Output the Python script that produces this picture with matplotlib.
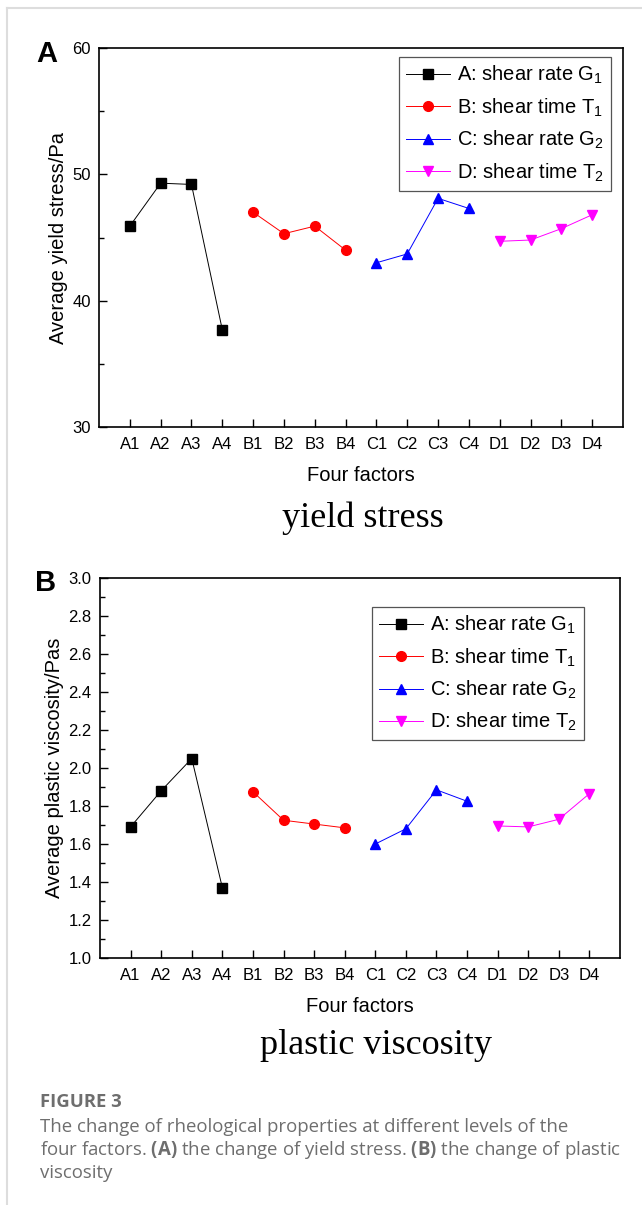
import numpy as np
import matplotlib.pyplot as plt
from matplotlib.lines import Line2D

plt.rcParams['font.family'] = ['Liberation Sans', 'DejaVu Sans']
plt.rcParams['mathtext.fontset'] = 'custom'
plt.rcParams['mathtext.rm'] = 'Liberation Sans'
plt.rcParams['mathtext.it'] = 'Liberation Sans'
plt.rcParams['mathtext.bf'] = 'Open Sans:bold'

# Data
levels = ['A1', 'A2', 'A3', 'A4', 'B1', 'B2', 'B3', 'B4',
          'C1', 'C2', 'C3', 'C4', 'D1', 'D2', 'D3', 'D4']
series_names = ['A: shear rate G$_1$', 'B: shear time T$_1$',
                'C: shear rate G$_2$', 'D: shear time T$_2$']

yield_A = [45.9, 49.3, 49.2, 37.7]
yield_B = [47.0, 45.3, 45.9, 44.0]
yield_C = [43.0, 43.7, 48.1, 47.3]
yield_D = [44.7, 44.8, 45.7, 46.8]

visc_A = [1.69, 1.88, 2.05, 1.37]
visc_B = [1.875, 1.725, 1.705, 1.685]
visc_C = [1.60, 1.68, 1.885, 1.825]
visc_D = [1.695, 1.69, 1.73, 1.865]

colors = ['black', 'red', 'blue', 'magenta']
markers = ['s', 'o', '^', 'v']

fig = plt.figure(figsize=(6.42, 12.05), dpi=100)
W, H = 642, 1205


def box(l, t, r, b):
    return [l / W, 1 - b / H, (r - l) / W, (b - t) / H]


def draw_panel(ax, groups, ylim, major, minor, ylabel, leg_loc):
    x = np.arange(1, len(levels) + 1)
    for i, vals in enumerate(groups):
        xs = x[i * 4:(i + 1) * 4]
        ax.plot(xs, vals, color=colors[i], marker=markers[i], lw=0.7,
                ms=7, label=series_names[i])
    ax.set_xlim(0, 17)
    ax.set_ylim(*ylim)
    ax.set_xticks(x)
    ax.set_xticklabels(levels)
    ax.set_yticks(major)
    ax.set_yticks(minor, minor=True)
    ax.tick_params(direction='in', length=6, width=1.0, labelsize=12)
    ax.tick_params(axis='y', pad=6)
    ax.tick_params(axis='x', pad=7)
    ax.tick_params(which='minor', direction='in', length=3.5, width=1.0)
    for s in ax.spines.values():
        s.set_linewidth(1.2)
    ax.set_xlabel('Four factors', fontsize=14.5, labelpad=10)
    ax.set_ylabel(ylabel, fontsize=14.5, labelpad=3)
    leg = ax.legend(loc='upper right', bbox_to_anchor=leg_loc, fontsize=14.5,
                    fancybox=False, edgecolor='#555555', framealpha=1,
                    handlelength=2.2, handletextpad=0.35, borderpad=0.35,
                    labelspacing=0.5, borderaxespad=0)
    leg.get_frame().set_linewidth(0.9)


ax1 = fig.add_axes(box(99, 48, 623, 427))
draw_panel(ax1, [yield_A, yield_B, yield_C, yield_D], (30, 60),
           [30, 40, 50, 60], [35, 45, 55], 'Average yield stress/Pa',
           (0.977, 0.976))
ax1.text(36 / W, 1 - 40 / H, 'A', transform=fig.transFigure, fontsize=21,
         fontweight='bold', va='top', ha='left')

ax2 = fig.add_axes(box(100, 578, 620, 958))
draw_panel(ax2, [visc_A, visc_B, visc_C, visc_D], (1.0, 3.0),
           np.arange(1.0, 3.01, 0.2), np.arange(1.1, 3.0, 0.2),
           'Average plastic viscosity/Pas', (0.931, 0.924))
ax2.yaxis.set_major_formatter(plt.FormatStrFormatter('%.1f'))
ax2.text(35 / W, 1 - 569 / H, 'B', transform=fig.transFigure, fontsize=21,
         fontweight='bold', va='top', ha='left')

fig.text(363 / W, 1 - 518 / H, 'yield stress', family='Liberation Serif',
         fontsize=26, ha='center', va='center')
fig.text(376 / W, 1 - 1046 / H, 'plastic viscosity', family='Liberation Serif',
         fontsize=26, ha='center', va='center')

# caption
fig.text(40 / W, 1 - 1102 / H, 'FIGURE 3', family='Open Sans', fontsize=13.3,
         fontweight='bold', color='#6e6e6e', va='center')
cap_kw = dict(family='Open Sans', fontsize=13.4, color='#6e6e6e', va='center')
fig.text(40 / W, 1 - 1127 / H,
         'The change of rheological properties at different levels of the',
         **cap_kw)
fig.text(40 / W, 1 - 1150 / H,
         r'four factors. $\mathbf{(A)}$ the change of yield stress. $\mathbf{(B)}$ the change of plastic',
         **cap_kw)
fig.text(40 / W, 1 - 1173 / H, 'viscosity', **cap_kw)

# page border
fig.add_artist(Line2D([7 / W, 7 / W], [0, 1 - 8 / H], transform=fig.transFigure,
                      color='#dddddd', lw=1.5))
fig.add_artist(Line2D([7 / W, 1], [1 - 8 / H, 1 - 8 / H], transform=fig.transFigure,
                      color='#dddddd', lw=1.5))

fig.savefig('out.png', dpi=100)
